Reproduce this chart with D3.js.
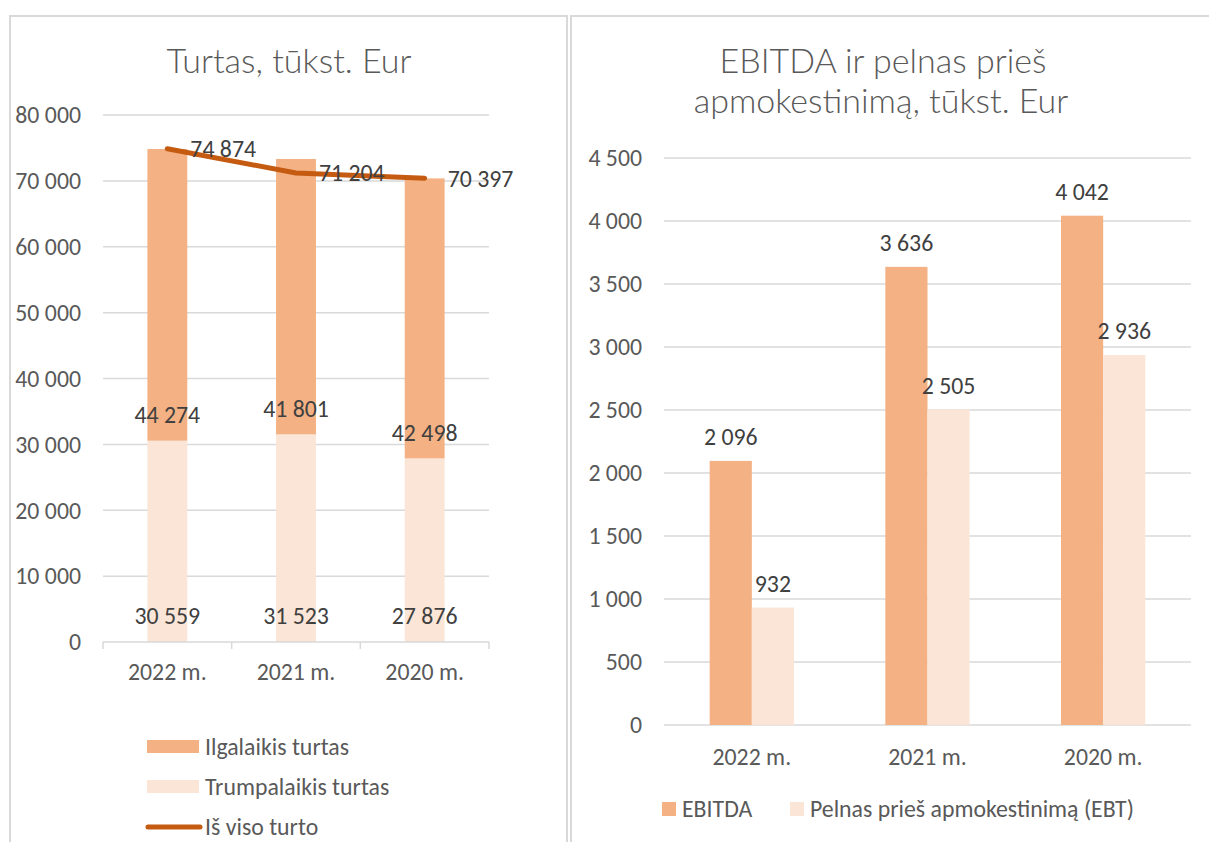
<!DOCTYPE html>
<html>
<head>
<meta charset="utf-8">
<script src="https://cdn.jsdelivr.net/npm/d3@7"></script>
<style>
  body { margin: 0; background: #fff; }
  text { font-family: Calibri, Carlito, "Open Sans", sans-serif; }
  text.title { font-family: "Calibri Light", Lato, Carlito, sans-serif; font-weight: 300; }
</style>
</head>
<body>
<div id="chart"></div>
<script>

var width = 1209,
    height = 842;

// data - left chart (turtas)
var years = ["2022 m.", "2021 m.", "2020 m."];
var ilgalaikis = [44274, 41801, 42498];
var trumpalaikis = [30559, 31523, 27876];
var isViso = [74874, 71204, 70397];
var leftTicks = [0, 10000, 20000, 30000, 40000, 50000, 60000, 70000, 80000];

// data - right chart (EBITDA / EBT)
var ebitda = [2096, 3636, 4042];
var ebt = [932, 2505, 2936];
var rightTicks = [0, 500, 1000, 1500, 2000, 2500, 3000, 3500, 4000, 4500];

var cDark = "#F4B183",
    cLight = "#FBE5D6",
    cLine = "#C55A11",
    cText = "#595959",
    cLabel = "#404040",
    cGrid = "#D9D9D9";

var fs = "23.8px",
    titleFs = "34px";

var fmt = function(v) { return d3.format(",")(v).replace(/,/g, " "); };

var svg = d3.select("#chart").append("svg")
    .attr("width", width)
    .attr("height", height);

// panel borders
svg.append("rect")
    .attr("x", 10).attr("y", 16)
    .attr("width", 557).attr("height", 860)
    .attr("fill", "none")
    .attr("stroke", cGrid)
    .attr("stroke-width", 2);

svg.append("rect")
    .attr("x", 571).attr("y", 16)
    .attr("width", 700).attr("height", 860)
    .attr("fill", "none")
    .attr("stroke", cGrid)
    .attr("stroke-width", 2);

/* ---------------- left chart ---------------- */

var gl = svg.append("g");

gl.append("text")
    .attr("class", "title")
    .attr("x", 289).attr("y", 73)
    .attr("text-anchor", "middle")
    .attr("fill", cText)
    .style("font-size", titleFs)
    .text("Turtas, tūkst. Eur");

var xL = d3.scaleBand()
    .domain(years)
    .range([103, 489])
    .paddingInner(0.69)
    .paddingOuter(0.345);

var yL = d3.scaleLinear()
    .domain([0, 80000])
    .range([642, 115]);

// gridlines
gl.selectAll("line.grid")
    .data(leftTicks.slice(1))
    .enter().append("line")
    .attr("class", "grid")
    .attr("x1", 103).attr("x2", 489)
    .attr("y1", function(d) { return yL(d); })
    .attr("y2", function(d) { return yL(d); })
    .attr("stroke", cGrid)
    .attr("stroke-width", 1.5);

// y tick labels
gl.selectAll("text.ytick")
    .data(leftTicks)
    .enter().append("text")
    .attr("class", "ytick")
    .attr("x", 81)
    .attr("y", function(d) { return yL(d); })
    .attr("dy", "0.35em")
    .attr("text-anchor", "end")
    .attr("fill", cText)
    .style("font-size", fs)
    .text(fmt);

var stackData = years.map(function(y, i) {
  return { year: y, trump: trumpalaikis[i], ilg: ilgalaikis[i] };
});

var stack = d3.stack().keys(["trump", "ilg"]);
var series = stack(stackData);
var colorL = { trump: cLight, ilg: cDark };

gl.selectAll("g.layer")
    .data(series)
    .enter().append("g")
    .attr("class", "layer")
    .attr("fill", function(d) { return colorL[d.key]; })
    .selectAll("rect")
    .data(function(d) { return d; })
    .enter().append("rect")
    .attr("x", function(d) { return xL(d.data.year); })
    .attr("width", xL.bandwidth())
    .attr("y", function(d) { return yL(d[1]); })
    .attr("height", function(d) { return yL(d[0]) - yL(d[1]); });

// x axis line and category boundary ticks
gl.append("line")
    .attr("x1", 103).attr("x2", 489)
    .attr("y1", 642).attr("y2", 642)
    .attr("stroke", cGrid).attr("stroke-width", 1.5);

var bounds = [103].concat(years.map(function(y) { return xL(y) - xL.step() * xL.paddingInner() / 2 + xL.step(); }));
gl.selectAll("line.xtick")
    .data(bounds)
    .enter().append("line")
    .attr("class", "xtick")
    .attr("x1", function(d) { return d; })
    .attr("x2", function(d) { return d; })
    .attr("y1", 642).attr("y2", 649)
    .attr("stroke", cGrid).attr("stroke-width", 1.5);

gl.selectAll("text.xlab")
    .data(years)
    .enter().append("text")
    .attr("class", "xlab")
    .attr("x", function(d) { return xL(d) + xL.bandwidth() / 2; })
    .attr("y", 672)
    .attr("dy", "0.35em")
    .attr("text-anchor", "middle")
    .attr("fill", cText)
    .style("font-size", fs)
    .text(function(d) { return d; });

// labels at bar bases
series.forEach(function(s) {
  gl.selectAll("text.lab-" + s.key)
      .data(s)
      .enter().append("text")
      .attr("x", function(d) { return xL(d.data.year) + xL.bandwidth() / 2; })
      .attr("y", function(d) { return yL(d[0]) - 26; })
      .attr("dy", "0.35em")
      .attr("text-anchor", "middle")
      .attr("fill", cLabel)
      .style("font-size", fs)
      .text(function(d) { return fmt(d.data[s.key]); });
});

// total line
var line = d3.line()
    .x(function(d, i) { return xL(years[i]) + xL.bandwidth() / 2; })
    .y(function(d) { return yL(d); });

gl.append("path")
    .datum(isViso)
    .attr("d", line)
    .attr("fill", "none")
    .attr("stroke", cLine)
    .attr("stroke-width", 5)
    .attr("stroke-linecap", "round")
    .attr("stroke-linejoin", "round");

gl.selectAll("text.tot")
    .data(isViso)
    .enter().append("text")
    .attr("x", function(d, i) { return xL(years[i]) + xL.bandwidth() / 2 + 23; })
    .attr("y", function(d) { return yL(d); })
    .attr("dy", "0.35em")
    .attr("fill", cLabel)
    .style("font-size", fs)
    .text(fmt);

// legend
var legL = [
  { name: "Ilgalaikis turtas", type: "rect", color: cDark },
  { name: "Trumpalaikis turtas", type: "rect", color: cLight },
  { name: "Iš viso turto", type: "line", color: cLine }
];

var li = gl.selectAll("g.leg")
    .data(legL)
    .enter().append("g")
    .attr("class", "leg")
    .attr("transform", function(d, i) { return "translate(147," + (747 + i * 40) + ")"; });

li.filter(function(d) { return d.type == "rect"; })
    .append("rect")
    .attr("x", 0).attr("y", -7)
    .attr("width", 52).attr("height", 13)
    .attr("fill", function(d) { return d.color; });

li.filter(function(d) { return d.type == "line"; })
    .append("line")
    .attr("x1", 1).attr("x2", 53)
    .attr("y1", 0).attr("y2", 0)
    .attr("stroke", function(d) { return d.color; })
    .attr("stroke-width", 5)
    .attr("stroke-linecap", "round");

li.append("text")
    .attr("x", 58)
    .attr("y", 0)
    .attr("dy", "0.35em")
    .attr("fill", cText)
    .style("font-size", fs)
    .text(function(d) { return d.name; });

/* ---------------- right chart ---------------- */

var gr = svg.append("g");

gr.append("text")
    .attr("class", "title")
    .attr("x", 883).attr("y", 73)
    .attr("text-anchor", "middle")
    .attr("fill", cText)
    .style("font-size", titleFs)
    .text("EBITDA ir pelnas prieš");

gr.append("text")
    .attr("class", "title")
    .attr("x", 881).attr("y", 113)
    .attr("text-anchor", "middle")
    .attr("fill", cText)
    .style("font-size", titleFs)
    .text("apmokestinimą, tūkst. Eur");

var xR = d3.scaleBand()
    .domain(years)
    .range([664, 1191])
    .paddingInner(0.52)
    .paddingOuter(0.26);

var xSub = d3.scaleBand()
    .domain(["ebitda", "ebt"])
    .range([0, xR.bandwidth()]);

var yR = d3.scaleLinear()
    .domain([0, 4500])
    .range([725, 158]);

gr.selectAll("line.grid")
    .data(rightTicks)
    .enter().append("line")
    .attr("class", "grid")
    .attr("x1", 664).attr("x2", 1191)
    .attr("y1", function(d) { return yR(d); })
    .attr("y2", function(d) { return yR(d); })
    .attr("stroke", cGrid)
    .attr("stroke-width", 1.5);

gr.selectAll("text.ytick")
    .data(rightTicks)
    .enter().append("text")
    .attr("class", "ytick")
    .attr("x", 642)
    .attr("y", function(d) { return yR(d); })
    .attr("dy", "0.35em")
    .attr("text-anchor", "end")
    .attr("fill", cText)
    .style("font-size", fs)
    .text(fmt);

var barData = [];
years.forEach(function(y, i) {
  barData.push({ year: y, key: "ebitda", value: ebitda[i], color: cDark });
  barData.push({ year: y, key: "ebt", value: ebt[i], color: cLight });
});

gr.selectAll("rect.bar")
    .data(barData)
    .enter().append("rect")
    .attr("class", "bar")
    .attr("x", function(d) { return xR(d.year) + xSub(d.key); })
    .attr("width", xSub.bandwidth())
    .attr("y", function(d) { return yR(d.value); })
    .attr("height", function(d) { return yR(0) - yR(d.value); })
    .attr("fill", function(d) { return d.color; });

gr.selectAll("text.val")
    .data(barData)
    .enter().append("text")
    .attr("class", "val")
    .attr("x", function(d) { return xR(d.year) + xSub(d.key) + xSub.bandwidth() / 2; })
    .attr("y", function(d) { return yR(d.value) - 24; })
    .attr("dy", "0.35em")
    .attr("text-anchor", "middle")
    .attr("fill", cLabel)
    .style("font-size", fs)
    .text(function(d) { return fmt(d.value); });

gr.selectAll("text.xlab")
    .data(years)
    .enter().append("text")
    .attr("class", "xlab")
    .attr("x", function(d) { return xR(d) + xR.bandwidth() / 2; })
    .attr("y", 757)
    .attr("dy", "0.35em")
    .attr("text-anchor", "middle")
    .attr("fill", cText)
    .style("font-size", fs)
    .text(function(d) { return d; });

// legend
var legR = [
  { name: "EBITDA", color: cDark, x: 662 },
  { name: "Pelnas prieš apmokestinimą (EBT)", color: cLight, x: 790 }
];

var lr = gr.selectAll("g.leg")
    .data(legR)
    .enter().append("g")
    .attr("class", "leg")
    .attr("transform", function(d) { return "translate(" + d.x + ",809)"; });

lr.append("rect")
    .attr("x", 0).attr("y", -7)
    .attr("width", 14).attr("height", 14)
    .attr("fill", function(d) { return d.color; });

lr.append("text")
    .attr("x", 20)
    .attr("y", 0)
    .attr("dy", "0.35em")
    .attr("fill", cText)
    .style("font-size", fs)
    .text(function(d) { return d.name; });

</script>
</body>
</html>
